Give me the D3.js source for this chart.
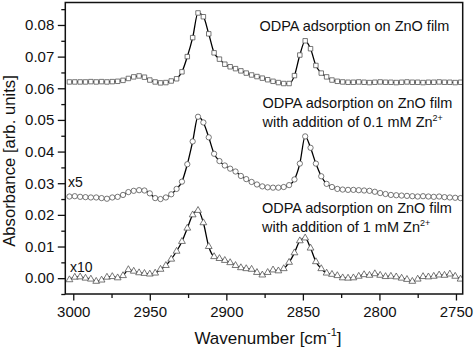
<!DOCTYPE html>
<html><head><meta charset="utf-8">
<script src="https://cdn.jsdelivr.net/npm/d3@7"></script>
<style>
body{margin:0;background:#fff}
text{font-family:"Liberation Sans",Arial,sans-serif;fill:#111}
</style>
</head><body>
<svg id="c" width="474" height="350"></svg>
<script>
const wavenumbers = [3002.5,2999,2995.5,2992,2988.5,2985,2981.5,2978,2974.5,2971,
2967.5,2964,2960.5,2957,2953.5,2950,2946.5,2943,2939.5,2936,
2932.5,2929,2925.5,2922,2918.5,2915,2911.5,2908,2904.5,2901,
2897.5,2894,2890.5,2887,2883.5,2880,2876.5,2873,2869.5,2866,
2862.5,2859,2855.5,2852,2848.5,2845,2841.5,2838,2834.5,2831,
2827.5,2824,2820.5,2817,2813.5,2810,2806.5,2803,2799.5,2796,
2792.5,2789,2785.5,2782,2778.5,2775,2771.5,2768,2764.5,2761,
2757.5,2754,2750.5,2747];

const filmSeries = [0.0620,0.0620,0.0620,0.0620,0.0621,0.0620,0.0621,0.0620,0.0621,0.0622,
0.0625,0.0631,0.0636,0.0639,0.0635,0.0626,0.0620,0.0617,0.0618,0.0623,
0.0630,0.0652,0.0700,0.0760,0.0838,0.0826,0.0772,0.0712,0.0692,0.0676,
0.0668,0.0662,0.0655,0.0648,0.0642,0.0637,0.0632,0.0627,0.0622,0.0618,
0.0615,0.0615,0.0640,0.0705,0.0750,0.0725,0.0672,0.0648,0.0636,0.0626,
0.0622,0.0620,0.0619,0.0619,0.0620,0.0619,0.0618,0.0619,0.0620,0.0619,
0.0619,0.0618,0.0619,0.0620,0.0619,0.0619,0.0618,0.0619,0.0619,0.0620,
0.0619,0.0619,0.0618,0.0619];

const zn01Series = [0.0258,0.0259,0.0257,0.0256,0.0255,0.0255,0.0253,0.0251,0.0255,0.0257,
0.0263,0.0272,0.0276,0.0278,0.0277,0.0268,0.0253,0.0250,0.0255,0.0265,
0.0282,0.0305,0.0360,0.0432,0.0510,0.0492,0.0445,0.0393,0.0370,0.0356,
0.0346,0.0337,0.0323,0.0313,0.0304,0.0296,0.0290,0.0287,0.0286,0.0286,
0.0288,0.0294,0.0312,0.0362,0.0448,0.0412,0.0362,0.0322,0.0298,0.0288,
0.0282,0.0280,0.0279,0.0279,0.0278,0.0277,0.0276,0.0273,0.0269,0.0266,
0.0263,0.0262,0.0261,0.0260,0.0259,0.0258,0.0259,0.0258,0.0257,0.0258,
0.0256,0.0255,0.0254,0.0253];

const zn1Series = [-0.0005,0.0003,0.0004,0.0000,-0.0003,-0.0010,-0.0006,0.0003,0.0005,0.0001,
0.0008,0.0027,0.0022,0.0017,0.0015,0.0013,0.0016,0.0028,0.0040,0.0060,
0.0085,0.0116,0.0158,0.0200,0.0214,0.0175,0.0100,0.0068,0.0062,0.0056,
0.0049,0.0040,0.0033,0.0030,0.0028,0.0018,0.0010,0.0018,0.0026,0.0023,
0.0030,0.0050,0.0080,0.0118,0.0127,0.0095,0.0052,0.0030,0.0016,0.0012,
0.0008,0.0001,0.0000,0.0001,0.0006,0.0011,0.0009,0.0014,0.0009,0.0005,
0.0006,0.0004,0.0000,-0.0004,-0.0010,-0.0003,0.0005,0.0004,0.0006,0.0010,
0.0009,0.0013,0.0006,-0.0003];

const xTicks = [3000,2950,2900,2850,2800,2750];
const xMinorTicks = [2975,2925,2875,2825,2775];
const yTicks = [0.00,0.01,0.02,0.03,0.04,0.05,0.06,0.07,0.08];
const yMinorTicks = [-0.005,0.005,0.015,0.025,0.035,0.045,0.055,0.065,0.075,0.085];

const L = 65.3, R = 462.7, T = 2.5, B = 294;
const svg = d3.select("#c");
const x = d3.scaleLinear().domain([3005.2, 2745.6]).range([L, R]);
const y = d3.scaleLinear().domain([-0.005, 0.0871]).range([B, T]);

// axes
const gx = svg.append("g").attr("transform", `translate(0,${B})`)
  .call(d3.axisBottom(x).tickValues(xTicks).tickSize(6.5).tickPadding(5.5).tickFormat(d3.format("d")));
const gxm = svg.append("g").attr("transform", `translate(0,${B})`)
  .call(d3.axisBottom(x).tickValues(xMinorTicks).tickSize(4).tickFormat(""));
const gy = svg.append("g").attr("transform", `translate(${L},0)`)
  .call(d3.axisLeft(y).tickValues(yTicks).tickSize(7.5).tickPadding(3.5).tickFormat(d3.format(".2f")));
const gym = svg.append("g").attr("transform", `translate(${L},0)`)
  .call(d3.axisLeft(y).tickValues(yMinorTicks).tickSize(4).tickFormat(""));
[gx,gxm,gy,gym].forEach(g => {
  g.select(".domain").remove();
  g.selectAll(".tick line").attr("stroke","#111").attr("stroke-width",1.3);
  g.selectAll(".tick text").attr("font-size",15).attr("fill","#111")
    .style("font-family",'"Liberation Sans",Arial,sans-serif');
});

// clip
svg.append("clipPath").attr("id","clip").append("rect")
  .attr("x",L).attr("y",T).attr("width",R-L).attr("height",B-T);

const plot = svg.append("g").attr("clip-path","url(#clip)");
const series = [
  {vals: filmSeries, shape: "square"},
  {vals: zn01Series, shape: "circle"},
  {vals: zn1Series, shape: "triangle"}
];
const line = d3.line().x(d => x(d[0])).y(d => y(d[1])).curve(d3.curveMonotoneX);
const sym = {
  square: d3.symbol().type(d3.symbolSquare).size(20),
  circle: d3.symbol().type(d3.symbolCircle).size(22),
  triangle: d3.symbol().type(d3.symbolTriangle).size(20)
};
series.forEach(s => {
  const pts = wavenumbers.map((w,i) => [w, s.vals[i]]);
  plot.append("path").datum(pts).attr("d", line)
    .attr("fill","none").attr("stroke","#000").attr("stroke-width",1.3);
  plot.selectAll(null).data(pts).enter().append("path")
    .attr("d", sym[s.shape]())
    .attr("transform", d => `translate(${x(d[0])},${y(d[1])})`)
    .attr("fill","#fff").attr("stroke","#555").attr("stroke-width",0.8);
});

// frame
svg.append("rect").attr("x",L).attr("y",T).attr("width",R-L).attr("height",B-T)
  .attr("fill","none").attr("stroke","#111").attr("stroke-width",1.5);

// annotations
const fs = 14.5;
function label(xp, yp, main, sup) {
  const t = svg.append("text").attr("x",xp).attr("y",yp).attr("font-size",fs);
  t.append("tspan").text(main);
  if (sup) t.append("tspan").attr("dy",-6).attr("font-size",9).text(sup);
}
label(259.5, 31, "ODPA adsorption on ZnO film");
label(262.5, 107.5, "ODPA adsorption on ZnO film");
label(262.5, 127, "with addition of 0.1 mM Zn", "2+");
label(262, 212.5, "ODPA adsorption on ZnO film");
label(262, 232, "with addition of 1 mM Zn", "2+");
svg.append("text").attr("x",68).attr("y",186.5).attr("font-size",14).text("x5");
svg.append("text").attr("x",70).attr("y",271.5).attr("font-size",14).text("x10");

// axis titles
const xt = svg.append("text").attr("x",(L+R)/2 + 4).attr("y",344).attr("text-anchor","middle").attr("font-size",17);
xt.append("tspan").text("Wavenumber [cm");
xt.append("tspan").attr("dy",-8).attr("font-size",11).text("-1");
xt.append("tspan").attr("dy",8).text("]");

svg.append("text").attr("transform","translate(15,161) rotate(-90)")
  .attr("text-anchor","middle").attr("font-size",16.7).text("Absorbance [arb. units]");
</script>
</body></html>
